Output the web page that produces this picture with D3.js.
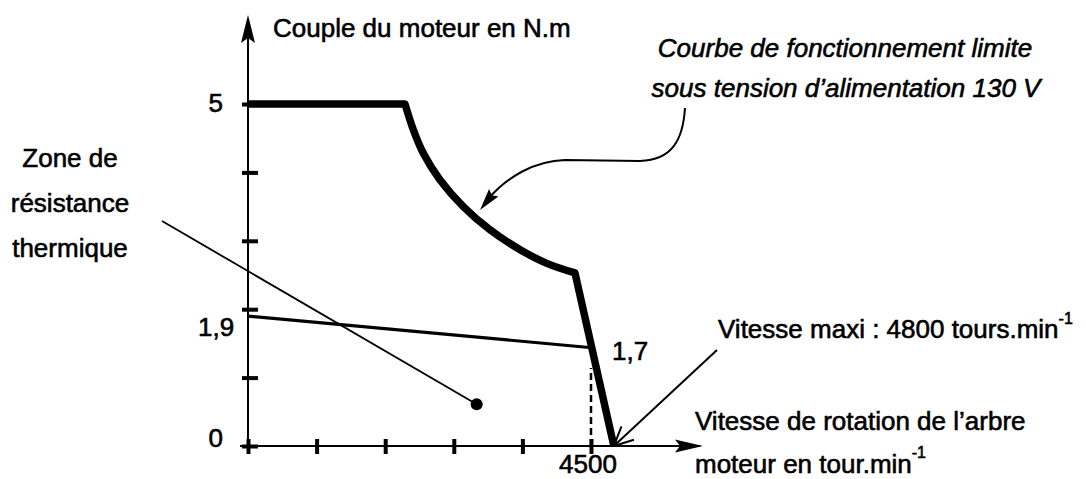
<!DOCTYPE html>
<html lang="fr">
<head>
<meta charset="utf-8">
<title>Couple du moteur</title>
<script src="https://d3js.org/d3.v7.min.js"></script>
<style>
	body { margin: 0; background: #fff; }
	svg text {
		font-family: "Liberation Sans", Arial, sans-serif;
		font-size: 26px;
		fill: #000;
		stroke: #000;
		stroke-width: 0.6px;
	}
	.it { font-style: italic; }
</style>
</head>
<body>
<div id="chart"></div>
<script>
// courbe limite : vitesse (tr/min) et couple (N.m)
var flatSpeed = [0, 2060];
var flatTorque = [5, 5];
var curveSpeed = [2060, 2170, 2300, 2520, 2825, 3175, 3570, 3920, 4290];
var curveTorque = [5, 4.62, 4.28, 3.89, 3.50, 3.16, 2.87, 2.67, 2.53];
var dropSpeed = [4290, 4800];
var dropTorque = [2.53, 0];

// droite de la zone de resistance thermique
var thermSpeed = [0, 4478];
var thermTorque = [1.9, 1.44];

// repere 4500 en pointilles
var dashSpeed = [4500, 4500];
var dashTorque = [0, 1.14];

// graduations
var xTicks = [0, 900, 1800, 2700, 3600, 4500];
var yTicks = [0, 1, 2, 3, 4, 5];
var yLabels = ["0", "5"];

var width = 1086;
var height = 479;

var svg = d3.select("#chart")
	.append("svg")
	.attr("width", width)
	.attr("height", height);

svg.append("rect").attr("width", width).attr("height", height).attr("fill", "#fff");

var x = d3.scaleLinear().domain([0, 4500]).range([248, 591]);
var y = d3.scaleLinear().domain([0, 5]).range([446, 104]);

function zip(a, b) {
	return a.map(function(d, i) { return [d, b[i]]; });
}

// fleche pleine avec encoche
function arrowHead(tx, ty, ang, len, hw, notch) {
	var c = Math.cos(ang), s = Math.sin(ang);
	var bx = tx - c * len, by = ty - s * len;
	var nx = tx - c * (len - notch), ny = ty - s * (len - notch);
	return [[tx, ty], [bx - s * hw, by + c * hw], [nx, ny], [bx + s * hw, by - c * hw]];
}

// axes (lignes + fleches)
var x0 = x(0), y0 = y(0);
svg.append("line").attr("x1", 240).attr("y1", y0).attr("x2", 700).attr("y2", y0)
	.attr("stroke", "#000").attr("stroke-width", 2);
svg.append("line").attr("x1", x0).attr("y1", 453).attr("x2", x0).attr("y2", 20)
	.attr("stroke", "#000").attr("stroke-width", 2);
svg.append("polygon").attr("points", arrowHead(703, y0, 0, 28, 6.5, 5).join(" ")).attr("fill", "#000");
svg.append("polygon").attr("points", arrowHead(x0, 15, -Math.PI / 2, 28, 7, 5).join(" ")).attr("fill", "#000");

// graduations avec d3.axis
var xAxis = svg.append("g")
	.attr("transform", "translate(0," + y0 + ")")
	.call(d3.axisBottom(x).tickValues(xTicks).tickSize(8).tickFormat(""));
xAxis.select(".domain").remove();
xAxis.selectAll(".tick line").attr("y1", -7).attr("y2", 8).attr("stroke-width", 4);

var yAxis = svg.append("g")
	.attr("transform", "translate(" + x0 + ",0)")
	.call(d3.axisLeft(y).tickValues(yTicks).tickSize(6).tickFormat(""));
yAxis.select(".domain").remove();
yAxis.selectAll(".tick line").attr("x1", -6).attr("x2", 10).attr("stroke-width", 4);

// courbe limite epaisse
var lin = d3.line().x(function(d) { return x(d[0]); }).y(function(d) { return y(d[1]); });
var smooth = d3.line().x(function(d) { return x(d[0]); }).y(function(d) { return y(d[1]); })
	.curve(d3.curveCatmullRom);
var dPath = lin(zip(flatSpeed, flatTorque))
	+ "L" + smooth(zip(curveSpeed, curveTorque)).slice(1)
	+ "L" + lin(zip(dropSpeed, dropTorque)).slice(1);
svg.append("path")
	.attr("d", dPath)
	.attr("fill", "none")
	.attr("stroke", "#000")
	.attr("stroke-width", 7.5)
	.attr("stroke-linejoin", "round");

// droite thermique 1,9 -> 1,7
svg.append("path")
	.attr("d", lin(zip(thermSpeed, thermTorque)))
	.attr("fill", "none").attr("stroke", "#000").attr("stroke-width", 3.2);

// pointilles a 4500
svg.append("path")
	.attr("d", lin(zip(dashSpeed, dashTorque)))
	.attr("fill", "none").attr("stroke", "#000").attr("stroke-width", 2.5)
	.attr("stroke-dasharray", "7,4");

// textes des graduations
svg.append("text").attr("x", 223).attr("y", y(5) + 8).attr("text-anchor", "end").text(yLabels[1]);
svg.append("text").attr("x", 223).attr("y", y(0) + 1).attr("text-anchor", "end").text(yLabels[0]);
svg.append("text").attr("x", 198).attr("y", 336).text("1,9");
svg.append("text").attr("x", 612).attr("y", 360).text("1,7");
svg.append("text").attr("x", x(4500) - 3).attr("y", 473).attr("text-anchor", "middle").text("4500");

// titres des axes
svg.append("text").attr("x", 273).attr("y", 37).text("Couple du moteur en N.m");
svg.append("text").attr("x", 695).attr("y", 430).text("Vitesse de rotation de l\u2019arbre");
var t2 = svg.append("text").attr("x", 695).attr("y", 473);
t2.append("tspan").text("moteur en tour.min");
t2.append("tspan").attr("dy", -15).style("font-size", "16px").text("-1");

// vitesse maxi
var t3 = svg.append("text").attr("x", 718).attr("y", 338);
t3.append("tspan").text("Vitesse maxi : 4800 tours.min");
t3.append("tspan").attr("dy", -14).style("font-size", "16px").text("-1");

var tipX = x(4800), tipY = y(0);
svg.append("line").attr("x1", tipX).attr("y1", tipY).attr("x2", 717).attr("y2", 350)
	.attr("stroke", "#000").attr("stroke-width", 2);
var ang = Math.atan2(350 - tipY, 717 - tipX);
[-0.45, 0.45].forEach(function(a) {
	svg.append("line").attr("x1", tipX).attr("y1", tipY)
		.attr("x2", tipX + 21 * Math.cos(ang + a)).attr("y2", tipY + 21 * Math.sin(ang + a))
		.attr("stroke", "#000").attr("stroke-width", 2);
});

// legende de la courbe limite
svg.append("text").attr("class", "it").attr("x", 845).attr("y", 57).attr("text-anchor", "middle")
	.text("Courbe de fonctionnement limite");
svg.append("text").attr("class", "it").attr("x", 846).attr("y", 97).attr("text-anchor", "middle")
	.text("sous tension d\u2019alimentation 130 V");

var p = d3.path();
p.moveTo(685, 108);
p.bezierCurveTo(683, 140, 672, 160, 640, 161);
p.lineTo(565, 160);
p.bezierCurveTo(535, 161, 508, 176, 488, 199);
svg.append("path").attr("d", p.toString()).attr("fill", "none")
	.attr("stroke", "#000").attr("stroke-width", 2);
svg.append("polygon")
	.attr("points", arrowHead(480, 210, Math.atan2(210 - 190, 480 - 496), 22, 6, 3).join(" "))
	.attr("fill", "#000");

// zone de resistance thermique
var zone = ["Zone de", "r\u00e9sistance", "thermique"];
var zoneY = [167, 212, 257];
zone.forEach(function(s, i) {
	svg.append("text").attr("x", 70).attr("y", zoneY[i]).attr("text-anchor", "middle").text(s);
});
svg.append("line").attr("x1", 162).attr("y1", 221).attr("x2", x(3000)).attr("y2", y(0.61))
	.attr("stroke", "#000").attr("stroke-width", 1.8);
svg.append("circle").attr("cx", x(3000)).attr("cy", y(0.61)).attr("r", 6).attr("fill", "#000");
</script>
</body>
</html>
